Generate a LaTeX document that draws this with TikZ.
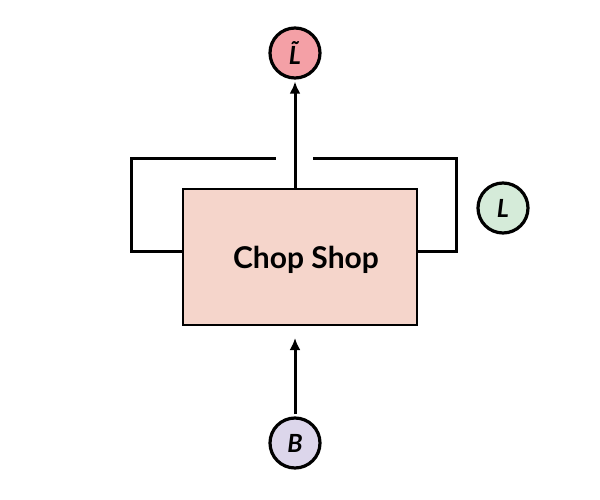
\documentclass[tikz,border=0pt]{standalone}
\usepackage{fontspec}
\setmainfont{Lato}
\usepackage{xcolor}
\usetikzlibrary{positioning, arrows.meta}

\definecolor{shopfill}{HTML}{F5D5CB}
\definecolor{ltfill}{HTML}{F4A0A6}
\definecolor{lfill}{HTML}{D5EBD9}
\definecolor{bfill}{HTML}{DCD6EB}

\begin{document}
\begin{tikzpicture}[x=1pt, y=-1pt,
    var/.style = {circle, draw = black, line width = 3.2pt, minimum size = 50pt,
                  inner sep = 0pt, font = \fontsize{25}{27}\selectfont\bfseries\itshape},
    flow/.style = {line width = 3pt, -{Latex[length=12pt, width=11pt]}},
    loop/.style = {line width = 3pt}]
    	\begin{scope}
          \path[use as bounding box] (0,0) rectangle (600,500);
          \node[draw = black, line width = 2pt, fill = shopfill, minimum width = 234pt,
                minimum height = 136pt, label = {[xshift = 6pt, yshift = -3pt, font = \fontsize{30}{32}\selectfont\bfseries]center:Chop Shop}]
                at (300,257) (shop) {};
          \node[var, fill = ltfill] at (295,53) (Lt) {\~{L}};
          \node[var, fill = lfill] at (503,208) (L) {L};
          \node[var, fill = bfill] at (295,443) (B) {B};
          \coordinate (gapl) at (276,159);
          \coordinate (gapr) at (313,159);
          \coordinate (intip) at (295,338);

          \draw[flow] (shop.north -| Lt) -- ([yshift=-2pt]Lt.south);
          \draw[flow] ([yshift=2pt]B.north) -- (intip);
          \draw[loop] (shop.west |- 0,251) -- (131,251) |- (gapl);
          \draw[loop] (gapr) -- (456,159) |- (shop.east |- 0,251);
    	\end{scope}
	\end{tikzpicture}
\end{document}
